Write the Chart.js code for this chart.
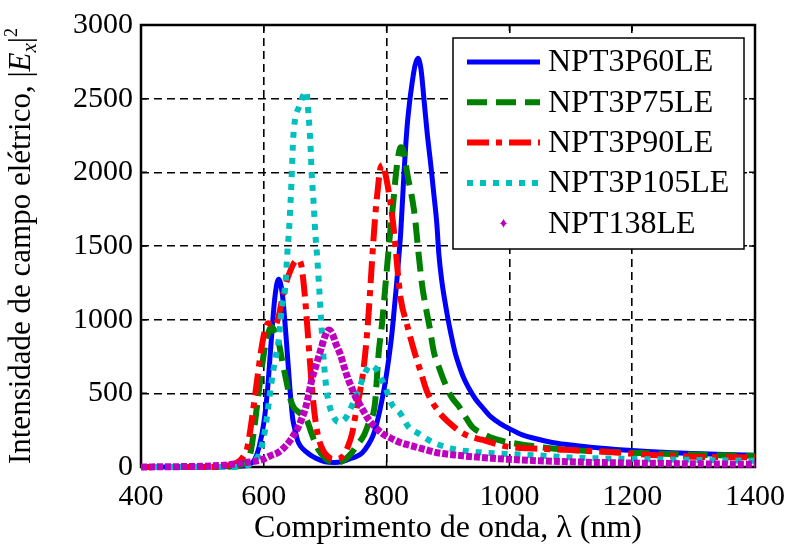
<!DOCTYPE html>
<html>
<head>
<meta charset="utf-8">
<script src="https://cdn.jsdelivr.net/npm/chart.js@4"></script>
<style>
  html, body { margin: 0; padding: 0; background: #fff; }
</style>
</head>
<body>
<canvas id="chart" width="787" height="545"></canvas>
<script>
// wavelength (nm), |Ex|^2 pairs
const npt3p60 = [[400,0],[500,0],[560,5],[575,15],[585,50],[592,130],[600,300],[606,520],[612,850],[618,1150],[624,1275],[630,1180],[636,900],[642,560],[647,330],[651,250],[655,180],[660,140],[670,100],[680,70],[690,50],[700,35],[715,30],[730,40],[740,55],[750,70],[760,95],[770,150],[779,225],[786,330],[792,445],[798,580],[803,720],[808,880],[812,1050],[816,1230],[820,1430],[823,1590],[828,1970],[833,2290],[837,2460],[841,2590],[846,2720],[851,2775],[856,2700],[861,2490],[866,2270],[872,2050],[877,1850],[882,1640],[885,1450],[890,1260],[897,1075],[902,960],[907,860],[912,770],[918,690],[926,600],[934,535],[945,460],[955,410],[970,340],[985,295],[1000,260],[1020,220],[1040,195],[1060,175],[1080,160],[1110,145],[1150,128],[1200,112],[1250,100],[1300,92],[1350,85],[1400,80]];
const npt3p75 = [[400,0],[500,0],[555,5],[570,30],[578,90],[584,250],[590,450],[596,650],[602,820],[608,920],[613,950],[618,920],[624,850],[630,720],[636,600],[642,480],[648,410],[656,375],[664,350],[670,320],[676,250],[683,170],[690,110],[700,60],[710,35],[720,30],[730,45],[743,95],[752,150],[763,215],[771,300],[781,430],[787,770],[793,990],[797,1180],[801,1370],[806,1600],[811,1800],[815,1980],[819,2110],[823,2170],[827,2150],[831,2060],[835,1960],[840,1860],[846,1700],[852,1450],[858,1230],[864,1080],[870,950],[877,780],[885,680],[893,590],[905,480],[918,410],[930,330],[940,270],[955,230],[970,200],[990,175],[1010,160],[1050,135],[1100,115],[1180,100],[1250,90],[1340,80],[1400,75]];
const npt3p90 = [[400,0],[500,0],[540,10],[560,40],[568,80],[573,130],[578,250],[584,430],[590,620],[596,800],[602,930],[607,975],[612,965],[618,960],[624,1020],[630,1140],[637,1260],[644,1340],[650,1390],[656,1405],[661,1370],[666,1200],[670,1000],[674,780],[678,560],[683,350],[689,200],[697,110],[705,70],[712,55],[720,55],[730,80],[738,150],[744,230],[751,390],[757,520],[762,650],[767,850],[771,1060],[776,1380],[781,1680],[786,1900],[790,2030],[794,2050],[798,1990],[803,1880],[808,1740],[813,1560],[818,1330],[823,1140],[833,970],[844,800],[856,640],[866,510],[885,375],[902,300],[920,240],[934,210],[955,185],[975,160],[995,140],[1040,125],[1100,115],[1150,105],[1230,82],[1300,70],[1400,65]];
const npt3p105 = [[400,0],[540,0],[570,10],[585,40],[595,120],[602,250],[607,400],[612,560],[618,720],[624,850],[629,1070],[635,1220],[638,1430],[642,1670],[645,1930],[648,2240],[652,2380],[657,2440],[664,2520],[669,2550],[673,2380],[676,2190],[678,1990],[681,1800],[684,1580],[687,1420],[690,1230],[693,1020],[697,760],[702,530],[708,400],[715,330],[722,305],[733,330],[745,430],[755,530],[765,640],[774,690],[782,670],[790,610],[798,540],[808,430],[823,360],[836,270],[853,225],[874,170],[897,135],[918,115],[950,100],[1000,88],[1050,78],[1100,65],[1200,55],[1300,48],[1400,42]];
const npt138 = [[400,0],[450,2],[500,5],[542,15],[570,30],[597,50],[610,75],[624,100],[635,140],[643,180],[650,225],[656,270],[662,330],[668,400],[673,490],[678,590],[686,700],[693,800],[700,890],[706,930],[712,900],[717,840],[725,760],[730,690],[738,590],[743,540],[750,470],[755,435],[763,375],[771,320],[782,270],[792,230],[805,200],[820,170],[835,150],[853,130],[870,110],[885,95],[910,82],[939,70],[970,60],[1000,52],[1050,42],[1100,35],[1150,30],[1200,27],[1250,24],[1300,22],[1350,20],[1400,18]];

const seriesNames = ['NPT3P60LE', 'NPT3P75LE', 'NPT3P90LE', 'NPT3P105LE', 'NPT138LE'];
const xTicks = [400, 600, 800, 1000, 1200, 1400];
const yTicks = [0, 500, 1000, 1500, 2000, 2500, 3000];

const serif = 'Liberation Serif, Times New Roman, serif';
const toPoints = arr => arr.map(p => ({ x: p[0], y: p[1] }));

// matlab style box, inward ticks on all four sides
const frame = {
    id: 'frame',
    beforeDatasetsDraw(chart) {
        const { ctx, chartArea: a, scales } = chart;
        ctx.save();
        ctx.strokeStyle = '#000';
        ctx.lineWidth = 1.5;
        const len = 6;
        ctx.beginPath();
        xTicks.forEach(v => {
            const px = scales.x.getPixelForValue(v);
            ctx.moveTo(px, a.bottom); ctx.lineTo(px, a.bottom - len);
            ctx.moveTo(px, a.top); ctx.lineTo(px, a.top + len);
        });
        yTicks.forEach(v => {
            const py = scales.y.getPixelForValue(v);
            ctx.moveTo(a.left, py); ctx.lineTo(a.left + len, py);
            ctx.moveTo(a.right, py); ctx.lineTo(a.right - len, py);
        });
        ctx.stroke();
        ctx.lineWidth = 2.5;
        ctx.strokeRect(a.left, a.top, a.right - a.left, a.bottom - a.top);
        ctx.restore();
    },
    afterDraw(chart) {
        const { ctx, chartArea: a } = chart;
        ctx.save();
        // y title, built from pieces so E and x can be italic
        const parts = [
            { t: 'Intensidade de campo elétrico, |', f: '31px ' + serif, dy: 0 },
            { t: 'E', f: 'italic 31px ' + serif, dy: 0 },
            { t: 'x', f: 'italic 21px ' + serif, dy: 8 },
            { t: '|', f: '31px ' + serif, dy: 0 },
            { t: '2', f: '18px ' + serif, dy: -10 }
        ];
        let total = 0;
        parts.forEach(p => { ctx.font = p.f; p.w = ctx.measureText(p.t).width; total += p.w; });
        ctx.translate(22, (a.top + a.bottom) / 2);
        ctx.rotate(-Math.PI / 2);
        ctx.fillStyle = '#000';
        ctx.textBaseline = 'middle';
        let cx = -total / 2;
        parts.forEach(p => { ctx.font = p.f; ctx.fillText(p.t, cx, p.dy); cx += p.w; });
        ctx.restore();

        // legend box
        const left = a.right - 302, top = a.top + 13, right = a.right - 11, bottom = a.top + 224;
        ctx.save();
        ctx.fillStyle = '#fff';
        ctx.fillRect(left, top, right - left, bottom - top);
        ctx.strokeStyle = '#000';
        ctx.lineWidth = 1.5;
        ctx.strokeRect(left, top, right - left, bottom - top);
        chart.data.datasets.forEach((ds, i) => {
            const y = top + 24 + i * 40.3;
            const x0 = left + 14, x1 = left + 87;
            if (ds.legendMarker) {
                drawDiamond(ctx, (x0 + x1) / 2, y, 5, ds.borderColor);
            } else {
                ctx.strokeStyle = ds.borderColor;
                ctx.lineWidth = ds.borderWidth;
                ctx.setLineDash(ds.borderDash || []);
                ctx.beginPath();
                ctx.moveTo(x0, y); ctx.lineTo(x1, y);
                ctx.stroke();
                ctx.setLineDash([]);
            }
            ctx.fillStyle = '#000';
            ctx.font = '32px ' + serif;
            ctx.textBaseline = 'middle';
            ctx.fillText(seriesNames[i], left + 95, y + 1);
        });
        ctx.restore();
    }
};

function drawDiamond(ctx, x, y, r, color) {
    ctx.fillStyle = color;
    ctx.beginPath();
    ctx.moveTo(x, y - r);
    ctx.quadraticCurveTo(x, y, x + r, y);
    ctx.quadraticCurveTo(x, y, x, y + r);
    ctx.quadraticCurveTo(x, y, x - r, y);
    ctx.quadraticCurveTo(x, y, x, y - r);
    ctx.fill();
    ctx.beginPath();
    ctx.moveTo(x, y - r * 0.8); ctx.lineTo(x + r * 0.55, y); ctx.lineTo(x, y + r * 0.8); ctx.lineTo(x - r * 0.55, y);
    ctx.closePath();
    ctx.fill();
}

const tickFont = { family: serif, size: 30 };

new Chart(document.getElementById('chart'), {
    type: 'line',
    data: {
        // order: later series drawn on top, like matlab
        datasets: [
            { label: seriesNames[0], data: toPoints(npt3p60), borderColor: '#0000ff', borderWidth: 5, order: 5 },
            { label: seriesNames[1], data: toPoints(npt3p75), borderColor: '#008000', borderWidth: 6, borderDash: [20, 9], order: 4 },
            { label: seriesNames[2], data: toPoints(npt3p90), borderColor: '#ff0000', borderWidth: 6, borderDash: [22, 7, 6, 7], order: 3 },
            { label: seriesNames[3], data: toPoints(npt3p105), borderColor: '#00bfbf', borderWidth: 6, borderDash: [6, 7], order: 2 },
            { label: seriesNames[4], data: toPoints(npt138), borderColor: '#bf00bf', borderWidth: 7, borderDash: [6, 2], order: 1, legendMarker: true }
        ]
    },
    options: {
        responsive: false,
        animation: false,
        devicePixelRatio: 1,
        layout: { padding: { top: 25, right: 32, left: 0, bottom: 0 } },
        elements: {
            point: { radius: 0 },
            line: { cubicInterpolationMode: 'monotone', borderCapStyle: 'butt' }
        },
        datasets: { line: { clip: 6 } },
        plugins: { legend: { display: false }, tooltip: { enabled: false } },
        scales: {
            x: {
                type: 'linear', min: 400, max: 1400,
                afterBuildTicks: s => { s.ticks = xTicks.map(v => ({ value: v })); },
                afterFit: s => { s.height = 78; s.paddingLeft = 0; s.paddingRight = 0; },
                grid: { color: '#000', lineWidth: 1.6, drawTicks: false },
                border: { display: false, dash: [8, 5] },
                ticks: { font: tickFont, color: '#000', padding: 12, maxRotation: 0, callback: v => String(v) },
                title: { display: true, text: 'Comprimento de onda, λ (nm)', font: { family: serif, size: 32, lineHeight: 1 }, color: '#000', padding: { top: 0, bottom: 0 } }
            },
            y: {
                min: 0, max: 3000,
                afterBuildTicks: s => { s.ticks = yTicks.map(v => ({ value: v })); },
                afterFit: s => { s.width = 141; s.paddingTop = 0; s.paddingBottom = 0; },
                grid: { color: '#000', lineWidth: 1.6, drawTicks: false },
                border: { display: false, dash: [8, 5] },
                ticks: { font: tickFont, color: '#000', padding: 8, callback: v => String(v) }
            }
        }
    },
    plugins: [frame]
});
</script>
</body>
</html>
